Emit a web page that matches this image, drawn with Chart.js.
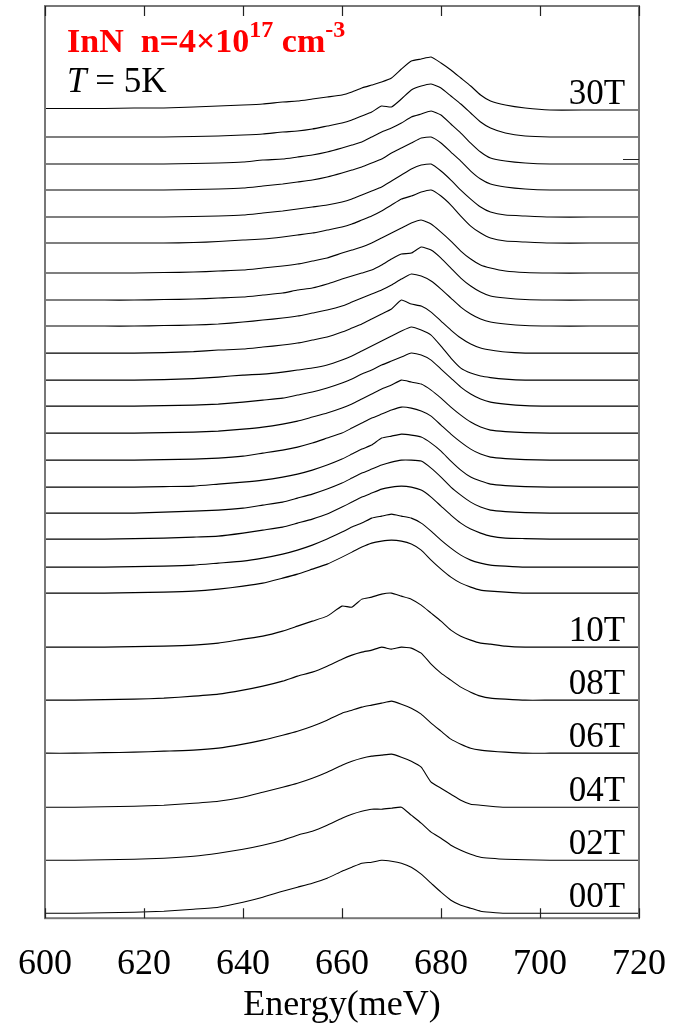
<!DOCTYPE html>
<html>
<head>
<meta charset="utf-8">
<title>InN magneto-PL spectra</title>
<script src="https://cdn.jsdelivr.net/npm/chart.js@4.4.1/dist/chart.umd.min.js"></script>
<style>
  html, body { margin: 0; padding: 0; background: #fff; }
  #wrap { width: 673px; height: 1027px; }
</style>
</head>
<body>
<div id="wrap"><canvas id="c" width="673" height="1027"></canvas></div>
<script>
// Photon energy grid (meV), shared by every spectrum
const energies = [600, 606, 612, 618, 624, 630, 635, 640, 644, 648, 651, 654, 657, 660, 662, 664, 666, 668, 670, 672, 674, 676, 678, 680, 682, 684, 686, 688, 690, 693, 697, 702, 710, 720];

// Magnetic field of each trace (T) and its vertical offset in the stack (a.u.)
const fields  = [0, 2, 4, 6, 8, 10, 12, 13, 14, 15, 16, 17, 18, 19, 20, 21, 22, 23, 24, 25, 26, 27, 28, 29, 30];
const offsets = [5, 58, 111, 165, 218, 271, 325, 351, 379, 405, 431, 458, 485, 512, 538, 565, 592, 618, 645, 675, 701, 728, 754, 781, 808];

// PL intensity (a.u.) at each energy, one array per field
const spec00 = [0,0,0.5,1,2,4,6,11,16,22, 26,30,35,42,46,50,51,53,52,50, 46,39,30,21,13,8,5,2,1,0, 0,0,0,0];
const spec02 = [0,0,0.5,1,2,4,7,11,15,20, 25,29,35,42,46,49,51,51,52,53, 45,37,28,22,15,10,6,3,2,1, 0.5,0,0,0];
const spec04 = [0,0,0.5,1,2,4,6,10,15,20, 24,29,35,42,46,49,51,52,53,50, 46,40,25,19,13,7,3,2,1,0, 0,0,0,0];
const spec06 = [0,0,0.5,1,2,3,5,9,13,18, 22,27,33,40,43,46,48,50,52,49, 45,39,30,22,14,9,5,3,2,1, 0,0,0,0];
const spec08 = [0,0,0.5,1,2,4,6,10,14,19, 24,28,34,41,45,48,50,53,51,53, 52,47,36,27,20,13,8,4,2,1, 0,0,0,0];
const spec10 = [0,0,0,0.5,1,2,4,8,11,16, 21,26,31,41,40,48,50,53,54,51, 48,42,34,26,17,11,7,4,3,1, 0,0,0,0];
const spec12 = [0,0,0,0.5,1,2,4,7,10,15, 19,24,29,36,41,46,50,52,53,52, 49,43,33,24,16,10,6,3,2,1, 0,0,0,0];
const spec13 = [0,0,0,0.5,1,2,4,6,9,13, 17,22,28,35,40,44,49,51,53,51, 49,44,36,27,19,12,7,4,2,1, 0,0,0,0];
const spec14 = [0,0,0,0.5,1,2,3,6,9,12, 16,20,25,32,37,42,46,50,52,53, 52,49,42,33,24,16,10,6,3,1, 0.5,0,0,0];
const spec15 = [0,0,0,0,1,2,3,5,8,11, 15,19,24,30,35,40,44,48,51,53, 53,52,45,36,26,18,11,6,3,1.5, 0.5,0,0,0];
const spec16 = [0,0,0,0,0.5,1,3,5,7,10, 13,17,22,28,33,38,42,49,51,53, 52,50,44,36,26,17,10,6,3,1.5, 0.5,0,0,0];
const spec17 = [0,0,0,0,0.5,1,2,4,7,10, 13,17,22,27,32,37,42,46,50,53, 52,49,44,35,26,18,11,6,3,1.5, 0.5,0,0,0];
const spec18 = [0,0,0,0,0.5,1,2,4,6,9, 12,16,20,25,29,34,39,44,48,53, 51,49,43,35,26,18,11,6,3,1.5, 0.5,0,0,0];
const spec19 = [0,0,0,0,0.5,1,2,4,6,8, 11,14,18,23,27,32,36,41,45,49, 53,51,46,37,28,19,12,7,4,2, 0.5,0,0,0];
const spec20 = [0,0,0,0,0.5,1.5,3,5,6,8, 10,12,15,20,24,29,34,39,44,49, 53,50,45,34,22,12,7,4,2.5,1, 0,0,0,0];
const spec21 = [0,0,0,0,0.5,1.5,3,4,6,8, 10,13,16,21,25,29,34,39,44,53, 49,47,41,32,23,15,9,5,3,1, 0,0,0,0];
const spec22 = [0,0,0,0,0.5,1,2,4,6,8, 10,13,16,20,24,28,32,36,41,47, 52,50,45,37,28,19,12,7,4,2, 0.5,0,0,0];
const spec23 = [0,0,0,0,0.5,1,2,3,5,7, 10,12,16,21,24,27,30,35,41,46, 47,53,50,42,32,22,14,8,4,2, 0.5,0,0,0];
const spec24 = [0,0,0,0,0.5,1,2,3,5,7, 9,12,15,20,23,26,30,35,40,45, 50,53,49,41,32,22,14,8,5,2, 0.5,0,0,0];
const spec25 = [0,0,0,0,0,0.5,1.5,3,4,6, 8,10,13,16,19,23,27,32,38,44, 47,51,53,47,38,27,17,10,5,2, 1,0,0,0];
const spec26 = [0,0,0,0,0,0.5,1,2,4,6, 8,10,12,15,18,22,26,30,36,42, 48,52,53,46,37,27,18,10,5,2, 1,0,0,0];
const spec27 = [0,0,0,0,0,0.5,1,2,4,6, 8,10,13,17,20,23,27,31,37,42, 47,52,53,47,38,29,19,11,6,3, 1,0,0,0];
const spec28 = [0,0,0,0,0,0.5,1,2,4,5, 7,9,12,16,19,22,27,32,36,41, 47,50,53,49,40,31,21,12,6,3, 1,0,0,0];
const spec29 = [0,0,0,0,0,0.5,1,2,3,5, 6,8,11,14,17,21,25,31,30,38, 47,51,53,49,41,33,24,15,9,4, 1,0,0,0];
const spec30 = [1.5,1.5,1.5,2,2,3,4,5,6,8, 9,11,13,15,18,22,25,28,32,41, 49,51,53,47,40,32,24,15,9,5, 2,0,0,0];

const spectra = [spec00, spec02, spec04, spec06, spec08, spec10, spec12, spec13, spec14, spec15,
                 spec16, spec17, spec18, spec19, spec20, spec21, spec22, spec23, spec24, spec25,
                 spec26, spec27, spec28, spec29, spec30];

// Traces that carry a field label, and their label text
const labelledFields = [0, 2, 4, 6, 8, 10, 30];
const fieldLabels    = ['00T', '02T', '04T', '06T', '08T', '10T', '30T'];

// x-axis tick values and a single right-hand tick mark on the intensity axis
const energyTicks = [600, 620, 640, 660, 680, 700, 720];
const rightTicks  = [759];

const SERIF = "'Liberation Serif', 'Times New Roman', Times, serif";

const datasets = fields.map((f, k) => ({
  label: f + 'T',
  data: energies.map((e, i) => ({ x: e, y: offsets[k] + spectra[k][i] })),
  borderColor: '#000',
  borderWidth: 1.1,
  pointRadius: 0,
  tension: 0.15,
  fill: false
}));

// Frame round the plot area with inward tick marks
const framePlugin = {
  id: 'frame',
  afterDatasetsDraw(chart) {
    const { ctx, chartArea: a, scales: { x, y } } = chart;
    ctx.save();
    ctx.strokeStyle = '#777';
    ctx.lineWidth = 2;
    ctx.strokeRect(a.left, a.top, a.right - a.left, a.bottom - a.top);
    ctx.strokeStyle = '#222';
    ctx.lineWidth = 1.2;
    ctx.beginPath();
    energyTicks.forEach(v => {
      const px = Math.round(x.getPixelForValue(v)) + 0.5;
      ctx.moveTo(px, a.bottom); ctx.lineTo(px, a.bottom - 10);
      ctx.moveTo(px, a.top);    ctx.lineTo(px, a.top + 10);
    });
    rightTicks.forEach(v => {
      const py = Math.round(y.getPixelForValue(v)) + 0.5;
      ctx.moveTo(a.right, py); ctx.lineTo(a.right - 16, py);
    });
    ctx.stroke();
    ctx.restore();
  }
};

// Sample description and field labels
const textPlugin = {
  id: 'texts',
  afterDraw(chart) {
    const { ctx, chartArea: a, scales: { x, y } } = chart;
    ctx.save();
    ctx.textBaseline = 'alphabetic';
    ctx.textAlign = 'left';

    // Red heading: InN  n=4×10^17 cm^-3
    let cx = a.left + 22;
    const base = 52, supBase = 37;
    ctx.fillStyle = '#ff0000';
    const big = 'bold 34px ' + SERIF, small = 'bold 24px ' + SERIF;
    const pieces = [['InN  n=4\u00d710', big, base], ['17', small, supBase], [' cm', big, base], ['-3', small, supBase]];
    pieces.forEach(([t, font, b]) => {
      ctx.font = font;
      ctx.fillText(t, cx, b);
      cx += ctx.measureText(t).width;
    });

    // Temperature line: T = 5K
    ctx.fillStyle = '#000';
    cx = a.left + 22;
    ctx.font = 'italic 35px ' + SERIF;
    ctx.fillText('T', cx, 92);
    cx += ctx.measureText('T').width;
    ctx.font = '35px ' + SERIF;
    ctx.fillText(' = 5K', cx, 92);

    // Field labels at the right end of their traces
    ctx.font = '35px ' + SERIF;
    ctx.textAlign = 'right';
    labelledFields.forEach((f, j) => {
      const k = fields.indexOf(f);
      const px = x.getPixelForValue(717.2);
      const py = y.getPixelForValue(offsets[k]) - 6;
      ctx.fillText(fieldLabels[j], px, py);
    });
    ctx.restore();
  }
};

new Chart(document.getElementById('c'), {
  type: 'line',
  data: { datasets },
  options: {
    responsive: false,
    devicePixelRatio: 1,
    animation: false,
    layout: { padding: { left: 45, right: 34, top: 6, bottom: 2.4 } },
    plugins: { legend: { display: false }, tooltip: { enabled: false } },
    scales: {
      x: {
        type: 'linear',
        position: 'bottom',
        min: 600,
        max: 720,
        afterBuildTicks: s => { s.ticks = energyTicks.map(v => ({ value: v })); },
        ticks: {
          font: { family: SERIF, size: 36, lineHeight: 2.55 },
          color: '#000',
          padding: 0,
          maxRotation: 0,
          autoSkip: false
        },
        grid: { display: false, drawTicks: false },
        border: { display: false },
        title: {
          display: true,
          text: 'Energy(meV)',
          color: '#000',
          font: { family: SERIF, size: 36 },
          padding: { top: -25.6, bottom: -3 }
        }
      },
      y: {
        type: 'linear',
        min: 0,
        max: 912,
        display: false
      }
    }
  },
  plugins: [framePlugin, textPlugin]
});
</script>
</body>
</html>
